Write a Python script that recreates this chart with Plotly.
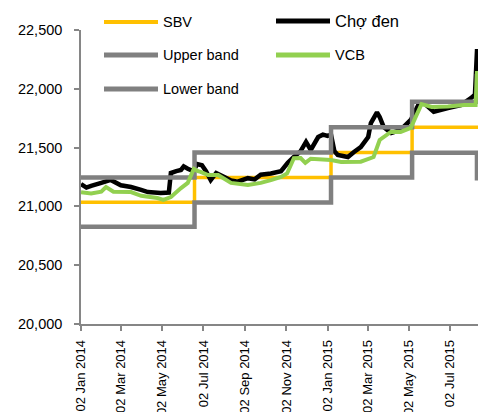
import plotly.graph_objects as go

# ---- data ----
sbv_dates = ["2014-01-02", "2014-06-19", "2015-01-07", "2015-05-07", "2015-08-14"]
sbv_vals = [21036, 21246, 21458, 21673, 21673]

band_dates = ["2014-01-02", "2014-06-19", "2015-01-07", "2015-05-07", "2015-08-11", "2015-08-14"]
upper_vals = [21246, 21458, 21673, 21890, 22106, 22106]
lower_vals = [20826, 21033, 21246, 21456, 21240, 21240]

black_dates = ["2014-01-02", "2014-01-10", "2014-01-17", "2014-02-01", "2014-02-15", "2014-03-02",
               "2014-03-17", "2014-04-01", "2014-04-11", "2014-04-30", "2014-05-12", "2014-05-15",
               "2014-05-23", "2014-05-30", "2014-06-03", "2014-06-09", "2014-06-17", "2014-06-23",
               "2014-06-30", "2014-07-06", "2014-07-13", "2014-07-21", "2014-08-02", "2014-08-12",
               "2014-08-22", "2014-09-06", "2014-09-16", "2014-09-25", "2014-10-10", "2014-10-25",
               "2014-11-04", "2014-11-13", "2014-11-23", "2014-12-01", "2014-12-08", "2014-12-19",
               "2014-12-26", "2015-01-02", "2015-01-07", "2015-01-12", "2015-01-17", "2015-02-01",
               "2015-02-10", "2015-02-20", "2015-03-03", "2015-03-07", "2015-03-16", "2015-03-20",
               "2015-03-26", "2015-04-06", "2015-04-20", "2015-05-05", "2015-05-16", "2015-05-24",
               "2015-06-08", "2015-06-29", "2015-07-18", "2015-08-02", "2015-08-08", "2015-08-11",
               "2015-08-14"]
black_vals = [21190, 21160, 21175, 21200, 21225, 21180,
              21165, 21140, 21122, 21114, 21118, 21284,
              21300, 21310, 21340, 21320, 21300, 21360,
              21350, 21300, 21224, 21284, 21250, 21220,
              21210, 21240, 21230, 21270, 21280, 21300,
              21370, 21420, 21470, 21548, 21480, 21590,
              21610, 21600, 21610, 21470, 21437, 21420,
              21463, 21505, 21590, 21709, 21800, 21760,
              21675, 21624, 21650, 21735, 21860, 21880,
              21805, 21837, 21862, 21920, 21950, 22320,
              22320]

green_dates = ["2014-01-02", "2014-01-17", "2014-02-01", "2014-02-08", "2014-02-19", "2014-03-17",
               "2014-04-01", "2014-04-25", "2014-05-04", "2014-05-15", "2014-05-30", "2014-06-09",
               "2014-06-18", "2014-06-24", "2014-06-28", "2014-07-09", "2014-07-24", "2014-08-12",
               "2014-09-06", "2014-09-25", "2014-10-10", "2014-10-25", "2014-11-03", "2014-11-13",
               "2014-11-23", "2014-11-30", "2014-12-08", "2015-01-07", "2015-01-22", "2015-02-20",
               "2015-03-11", "2015-03-20", "2015-04-06", "2015-04-20", "2015-05-05", "2015-05-13",
               "2015-05-21", "2015-06-05", "2015-06-29", "2015-07-23", "2015-08-09", "2015-08-11",
               "2015-08-14"]
green_vals = [21120, 21110, 21125, 21165, 21125, 21122,
              21090, 21071, 21055, 21080, 21156, 21200,
              21320, 21300, 21293, 21267, 21267, 21200,
              21182, 21200, 21224, 21250, 21280, 21410,
              21411, 21370, 21405, 21394, 21377, 21380,
              21420, 21565, 21635, 21633, 21667, 21770,
              21870, 21845, 21850, 21862, 21862, 22134,
              22134]

tick_vals = ["2014-01-02", "2014-03-02", "2014-05-02", "2014-07-02", "2014-09-02", "2014-11-02",
             "2015-01-02", "2015-03-02", "2015-05-02", "2015-07-02"]
tick_text = ["02 Jan 2014", "02 Mar 2014", "02 May 2014", "02 Jul 2014", "02 Sep 2014", "02 Nov 2014",
             "02 Jan 2015", "02 Mar 2015", "02 May 2015", "02 Jul 2015"]

series_names = ["SBV", "Chợ đen", "Upper band", "VCB", "Lower band"]
ORANGE, BLACK, GRAY, GREEN = "#FFC000", "#000000", "#808080", "#92D050"
FONT = "Liberation Sans"

fig = go.Figure()
fig.add_trace(go.Scatter(x=sbv_dates, y=sbv_vals, mode="lines", line=dict(color=ORANGE, width=3.5, shape="hv"),
                         name=series_names[0], showlegend=False))
fig.add_trace(go.Scatter(x=black_dates, y=black_vals, mode="lines",
                         line=dict(color=BLACK, width=4.5, simplify=False),
                         name=series_names[1], showlegend=False))
fig.add_trace(go.Scatter(x=band_dates, y=upper_vals, mode="lines", line=dict(color=GRAY, width=4.5, shape="hv"),
                         name=series_names[2], showlegend=False))
fig.add_trace(go.Scatter(x=green_dates, y=green_vals, mode="lines",
                         line=dict(color=GREEN, width=4, simplify=False),
                         name=series_names[3], showlegend=False))
fig.add_trace(go.Scatter(x=band_dates, y=lower_vals, mode="lines", line=dict(color=GRAY, width=4.5, shape="hv"),
                         name=series_names[4], showlegend=False))

# the page body has an 8px margin, so the figure starts at (8, 8) in the window
OFF = 8
W, H = 486, 412
# plot area in window pixels
L, R, T, B = 81, 479, 30, 324

def px(xp):
    return (xp - L) / (R - L)
def py(yp):
    return (B - yp) / (B - T)

legend_items = [
    (series_names[0], ORANGE, 104, 158, 22, 14.5, 4),
    (series_names[2], GRAY, 104, 158, 55, 14.5, 5),
    (series_names[4], GRAY, 104, 158, 89, 14.5, 5),
    (series_names[1], BLACK, 276, 330, 21, 16.5, 5),
    (series_names[3], GREEN, 276, 330, 55, 14.5, 5),
]
shapes = []
annotations = []
for name, col, x0, x1, yy, fs, lw in legend_items:
    shapes.append(dict(type="line", xref="paper", yref="paper", x0=px(x0), x1=px(x1), y0=py(yy), y1=py(yy),
                       line=dict(color=col, width=lw)))
    annotations.append(dict(xref="paper", yref="paper", x=px(x1 + 3), y=py(yy), text=name, showarrow=False,
                            xanchor="left", yanchor="middle", font=dict(family=FONT, size=fs, color="#000000")))

fig.update_layout(
    width=W, height=H, autosize=False,
    margin=dict(l=L - OFF, r=W - (R - OFF), t=T - OFF, b=H - (B - OFF), pad=0),
    paper_bgcolor="white", plot_bgcolor="white",
    showlegend=False,
    shapes=shapes, annotations=annotations,
    font=dict(family=FONT, size=14.5, color="#000000"),
)
fig.update_xaxes(
    type="date", range=["2014-01-02", "2015-08-14"], automargin=False,
    tickmode="array", tickvals=tick_vals, ticktext=tick_text, tickangle=-90,
    showgrid=False, zeroline=False,
    showline=True, linecolor="#868686", linewidth=1.5,
    ticks="outside", ticklen=5, tickcolor="#868686", tickwidth=1.5,
    ticklabelstandoff=4,
    tickfont=dict(family=FONT, size=13, color="#000000"),
)
fig.update_yaxes(
    range=[20000, 22500], tickvals=[20000, 20500, 21000, 21500, 22000, 22500], automargin=False,
    tickformat=",d", showgrid=False, zeroline=False,
    showline=True, linecolor="#868686", linewidth=1.5,
    ticks="outside", ticklen=5, tickcolor="#868686", tickwidth=1.5,
    ticklabelstandoff=9,
    tickfont=dict(family=FONT, size=14.5, color="#000000"),
)

fig.write_html("out.html")
